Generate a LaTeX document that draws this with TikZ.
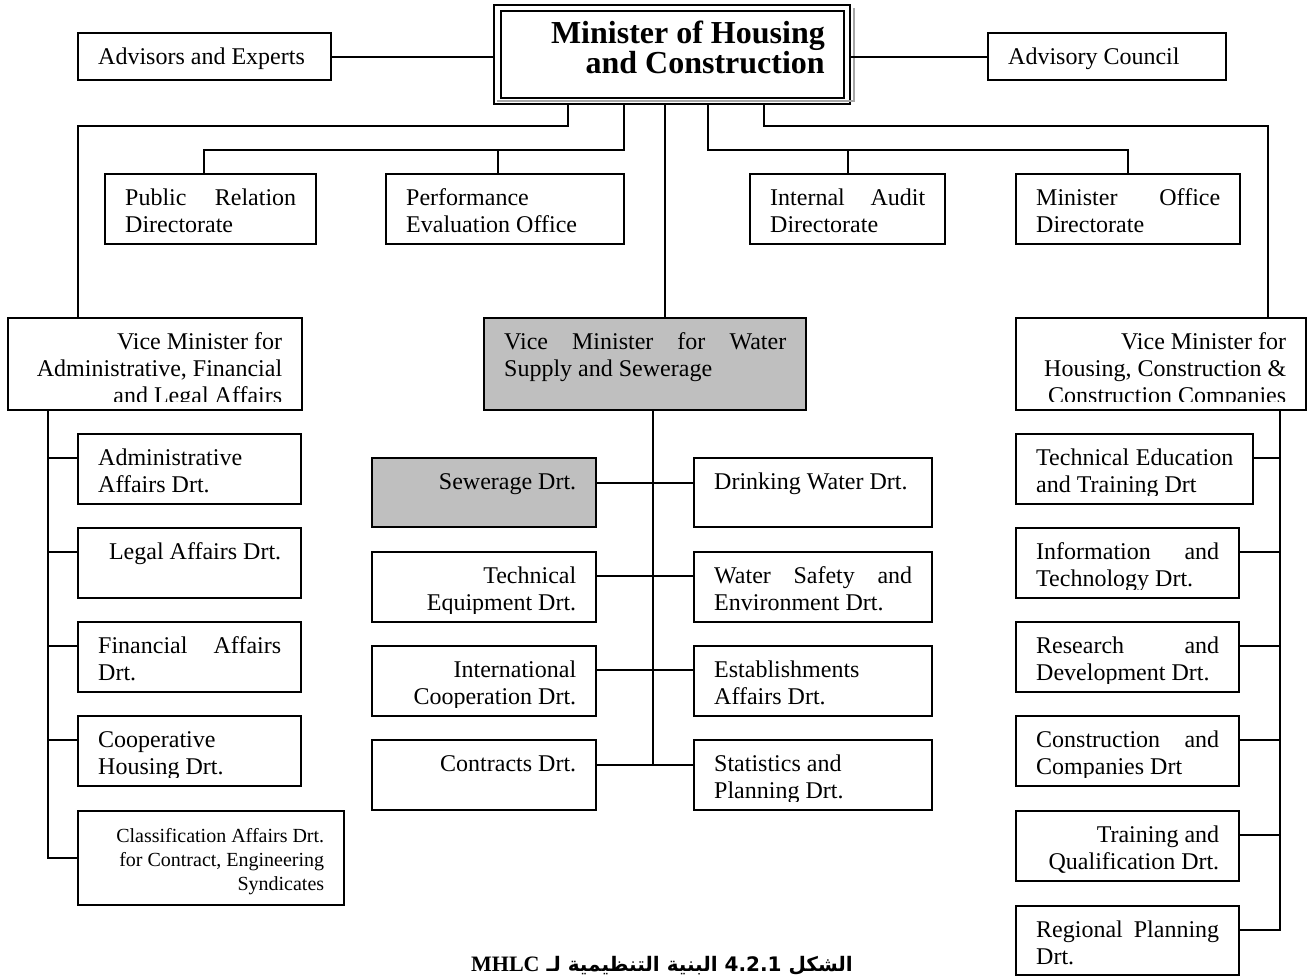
\documentclass[tikz,border=0pt]{standalone}
\usepackage{fontspec}
\setmainfont{Liberation Serif}
\newfontfamily\arabicfont[Script=Arabic]{DejaVu Sans}
\TeXXeTstate=1
\usetikzlibrary{calc}
\newcommand{\ofont}{\fontsize{24}{27}\selectfont}
\tikzset{
  obox/.style={draw, line width=2, inner sep=0, outer sep=0},
  graybox/.style={fill=black!25},
  otext/.style={inner sep=0, font=\ofont},
  conn/.style={line width=2},
}
\newcommand{\jl}[1]{\makebox[\hsize][s]{\spaceskip=0.25em plus 20em\relax #1}}
\newcommand{\obox}[8][]{%
  \pgfmathsetmacro{\oCX}{(#3+#5)/2}%
  \pgfmathsetmacro{\oCY}{(#4+#6)/2}%
  \pgfmathsetmacro{\oW}{#5-#3}%
  \pgfmathsetmacro{\oH}{#6-#4}%
  \pgfmathsetmacro{\oTW}{#5-#3-40}%
  \node[obox,minimum width=\oW pt,minimum height=\oH pt,#1] (#2) at (\oCX,\oCY) {};
  \begin{scope}
    \clip ($(#2.south west)+(0,-9)$) rectangle (#2.north east);
    \node[otext,text width=\oTW pt,align=#7,anchor=north west] at ($(#2.north west)+(20,6)$) {\spaceskip=0.25em\xspaceskip=0.25em\relax\rule{0pt}{25pt}#8};
  \end{scope}}
\begin{document}
\begin{tikzpicture}[x=1pt,y=-1pt]
\useasboundingbox[fill=white] (0,0) rectangle (1313,978);

% top minister box
\node[draw, line width=2.5, fill=white, minimum width=356pt, minimum height=99pt, inner sep=0, outer sep=0] (min) at (672,54.5) {};
\draw[black!35, line width=2] ($(min.north east)+(3.5,3)$) -- ($(min.south east)+(3.5,-3.5)$) -- ($(min.south west)+(3,-3.5)$);
\draw[line width=2.5] ($(min.south west)+(7,-6)$) rectangle ($(min.north east)+(-6,6)$);
\node[font=\bfseries\fontsize{32}{27}\selectfont, align=right, anchor=north east, inner sep=0] (mint) at (825,18) {\spaceskip=0pt\relax\rule{0pt}{25pt}Minister of Housing\\and Construction};

% top row
\obox{adv}{78}{33}{331}{80}{left}{Advisors and Experts}
\obox{cou}{988}{33}{1226}{80}{left}{Advisory Council}

% second row
\obox{pr}{105}{174}{316}{244}{left}{\jl{Public Relation}\\Directorate}
\obox{pe}{386}{174}{624}{244}{left}{Performance\\Evaluation Office}
\obox{ia}{750}{174}{945}{244}{left}{\jl{Internal Audit}\\Directorate}
\obox{mo}{1016}{174}{1240}{244}{left}{\jl{Minister Office}\\Directorate}

% vice ministers
\obox{vmA}{8}{318}{302}{410}{right}{Vice Minister for\\Administrative, Financial\\and Legal Affairs}
\obox[graybox]{vmW}{484}{318}{806}{410}{left}{\jl{Vice Minister for Water}\\Supply and Sewerage}
\obox{vmH}{1016}{318}{1306}{410}{right}{Vice Minister for\\Housing, Construction \&\\Construction Companies}

% left column
\obox{adm}{78}{434}{301}{504}{left}{Administrative\\Affairs Drt.}
\obox{leg}{78}{528}{301}{598}{right}{Legal Affairs Drt.}
\obox{fin}{78}{622}{301}{692}{left}{\jl{Financial Affairs}\\Drt.}
\obox{coop}{78}{716}{301}{786}{left}{Cooperative\\Housing Drt.}
{\renewcommand{\ofont}{\fontsize{20}{24}\selectfont}%
\obox{cls}{78}{811}{344}{905}{right}{Classification Affairs Drt.\\for Contract, Engineering\\Syndicates}}

% center column
\obox[graybox]{sew}{372}{458}{596}{527}{right}{Sewerage Drt.}
\obox{dw}{694}{458}{932}{527}{left}{Drinking Water Drt.}
\obox{teq}{372}{552}{596}{622}{right}{Technical\\Equipment Drt.}
\obox{ws}{694}{552}{932}{622}{left}{\jl{Water Safety and}\\Environment Drt.}
\obox{intl}{372}{646}{596}{716}{right}{International\\Cooperation Drt.}
\obox{est}{694}{646}{932}{716}{left}{Establishments\\Affairs Drt.}
\obox{con}{372}{740}{596}{810}{right}{Contracts Drt.}
\obox{stat}{694}{740}{932}{810}{left}{Statistics and\\Planning Drt.}

% right column
\obox{ted}{1016}{434}{1253}{504}{left}{\jl{Technical Education}\\and Training Drt}
\obox{inf}{1016}{528}{1239}{598}{left}{\jl{Information and}\\Technology Drt.}
\obox{rd}{1016}{622}{1239}{692}{left}{\jl{Research and}\\Development Drt.}
\obox{cc}{1016}{716}{1239}{786}{left}{\jl{Construction and}\\Companies Drt}
\obox{tq}{1016}{811}{1239}{881}{right}{Training and\\Qualification Drt.}
\obox{reg}{1016}{906}{1239}{975}{left}{\jl{Regional Planning}\\Drt.}

% connectors from the minister
\draw[conn] (adv.east) -- (adv.east -| min.west);
\draw[conn] (cou.west) -- (cou.west -| min.east);
\draw[conn] ($(min.south west)+(74,0)$) -- ++(0,22) -| ($(vmA.north west)+(70,0)$);
\draw[conn] ($(min.south west)+(130,0)$) -- ++(0,46) -| ($(pr.north west)+(99,0)$);
\draw[conn] ($(pe.north west)+(112,0)$) -- ++(0,-24);
\draw[conn] ($(min.south west)+(171,0)$) -- ($(vmW.north west)+(181,0)$);
\draw[conn] ($(min.south west)+(214,0)$) -- ++(0,46) -| ($(mo.north west)+(112,0)$);
\draw[conn] ($(ia.north west)+(98,0)$) -- ++(0,-24);
\draw[conn] ($(min.south west)+(270,0)$) -- ++(0,22) -| ($(vmH.north west)+(252,0)$);

% left spine
\draw[conn] ($(vmA.south west)+(40,0)$) |- (cls.west);
\foreach \b in {adm,leg,fin,coop}
  \draw[conn] ($(\b.north west)+(0,24)$) -- ++(-30,0);

% center spine
\draw[conn] ($(vmW.south west)+(169,0)$) -- ($(con.north east)+(57,25)$);
\draw[conn] ($(sew.north east)+(0,25)$) -- ($(dw.north west)+(0,25)$);
\draw[conn] ($(teq.north east)+(0,24)$) -- ($(ws.north west)+(0,24)$);
\draw[conn] ($(intl.north east)+(0,24)$) -- ($(est.north west)+(0,24)$);
\draw[conn] ($(con.north east)+(0,25)$) -- ($(stat.north west)+(0,25)$);

% right spine
\draw[conn] ($(vmH.south west)+(264,0)$) |- ($(reg.north east)+(0,24)$);
\draw[conn] ($(ted.north east)+(0,24)$) -- ++(27,0);
\foreach \b in {inf,rd,cc,tq}
  \draw[conn] ($(\b.north east)+(0,24)$) -- ++(41,0);

% caption
\node[font=\arabicfont\bfseries\fontsize{20}{24}\selectfont, anchor=base, inner sep=0] (cap) at (662,971) {\beginR الشكل \beginL 4.2.1\endL{} البنية التنظيمية لـ \beginL{\rmfamily\bfseries\fontsize{22}{24}\selectfont MHLC}\endL{}\endR};
\end{tikzpicture}
\end{document}
